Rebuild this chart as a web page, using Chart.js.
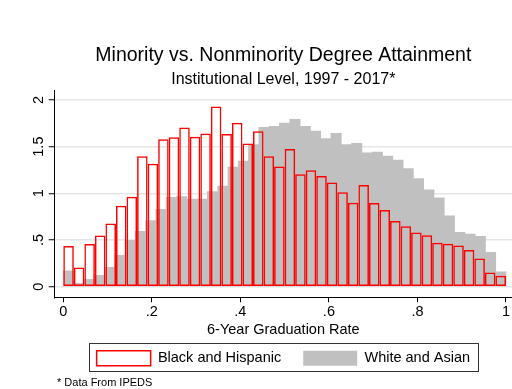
<!DOCTYPE html>
<html>
<head>
<meta charset="utf-8">
<title>Minority vs. Nonminority Degree Attainment</title>
<script src="https://cdn.jsdelivr.net/npm/chart.js@4/dist/chart.umd.min.js"></script>
<style>
  html, body { margin: 0; padding: 0; background: #ffffff; }
  canvas { display: block; }
</style>
</head>
<body>
<canvas id="chart" width="512" height="389"></canvas>
<script>
const FONT = '"Liberation Sans", Arial, Helvetica, sans-serif';

// Text
const titleText = 'Minority vs. Nonminority Degree Attainment';
const subtitleText = 'Institutional Level, 1997 - 2017*';
const xAxisTitle = '6-Year Graduation Rate';
const footnoteText = '* Data From IPEDS';
const seriesNames = ['Black and Hispanic', 'White and Asian'];

// Histogram densities, equal-width bins over [0, 1]
// Black and Hispanic: 42 bins
const minorityDensity = [
  0.435, 0.205, 0.457, 0.549, 0.676, 0.867, 0.963, 1.398, 1.317, 1.579,
  1.600, 1.706, 1.607, 1.642, 1.929, 1.635, 1.756, 1.533, 1.664, 1.398,
  1.288, 1.476, 1.204, 1.246, 1.186, 1.115, 1.012, 0.899, 1.090, 0.896,
  0.821, 0.704, 0.648, 0.581, 0.552, 0.471, 0.460, 0.442, 0.393, 0.301,
  0.152, 0.117
];
// White and Asian: 43 bins
const nonminorityDensity = [
  0.170, 0.035, 0.078, 0.120, 0.205, 0.336, 0.496, 0.591, 0.708, 0.828,
  0.956, 0.963, 0.938, 0.938, 1.019, 1.076, 1.281, 1.345, 1.522, 1.706,
  1.717, 1.752, 1.791, 1.717, 1.667, 1.586, 1.642, 1.522, 1.536, 1.434,
  1.441, 1.398, 1.356, 1.264, 1.158, 1.037, 0.952, 0.758, 0.581, 0.563,
  0.538, 0.368, 0.159
];

// Axis ticks
const xTickValues = [0, 0.2, 0.4, 0.6, 0.8, 1];
const xTickLabels = ['0', '.2', '.4', '.6', '.8', '1'];
const yTickValues = [0, 0.5, 1, 1.5, 2];
const yTickLabels = ['0', '.5', '1', '1.5', '2'];

// Plot region extends a little beyond the data range
const X_RANGE = [-0.0194, 1.0136];
const Y_RANGE = [-0.114, 2.096];

// Each bar sits at the centre of its bin
function toBins(values) {
  const n = values.length;
  return values.map((v, i) => ({ x: (i + 0.5) / n, y: v }));
}

const setTicks = (values) => (scale) => {
  scale.ticks = values.map(v => ({ value: v }));
};

// Frame around the legend row
const legendFrame = {
  id: 'legendFrame',
  afterDraw(chart) {
    const lg = chart.legend;
    if (!lg || !lg.legendHitBoxes || !lg.legendHitBoxes.length) return;
    const boxes = lg.legendHitBoxes;
    const first = boxes[0];
    const last = boxes[boxes.length - 1];
    const x0 = first.left - 7.5;
    const x1 = last.left + last.width + 8.5;
    const y0 = first.top - 7.7;
    const y1 = first.top + first.height + 5.5;
    const ctx = chart.ctx;
    ctx.save();
    ctx.strokeStyle = '#333333';
    ctx.lineWidth = 1;
    ctx.strokeRect(Math.round(x0) + 0.5, Math.round(y0) + 0.5, Math.round(x1 - x0), Math.round(y1 - y0));
    ctx.restore();
  }
};

// Source note under the legend
const footnote = {
  id: 'footnote',
  afterDraw(chart) {
    const ctx = chart.ctx;
    ctx.save();
    ctx.fillStyle = '#000000';
    ctx.font = '11px ' + FONT;
    ctx.textAlign = 'left';
    ctx.textBaseline = 'middle';
    ctx.fillText(footnoteText, 57, chart.height - 6);
    ctx.restore();
  }
};

Chart.defaults.font.family = FONT;
Chart.defaults.color = '#000000';

new Chart(document.getElementById('chart'), {
  type: 'bar',
  data: {
    datasets: [
      {
        // outlined bars, drawn on top
        label: seriesNames[0],
        data: toBins(minorityDensity),
        xAxisID: 'x',
        yAxisID: 'y',
        backgroundColor: 'rgba(255,255,255,0)',
        borderColor: '#ff0000',
        borderWidth: 1.5,
        borderSkipped: false,
        inflateAmount: 0,
        barPercentage: 1,
        categoryPercentage: 1,
        grouped: false,
        order: 0
      },
      {
        // solid grey bars behind; own hidden axis so its bin width is kept
        label: seriesNames[1],
        data: toBins(nonminorityDensity),
        xAxisID: 'x2',
        yAxisID: 'y',
        backgroundColor: '#c0c0c0',
        borderWidth: 0,
        inflateAmount: 0.4,
        barPercentage: 1,
        categoryPercentage: 1,
        grouped: false,
        order: 1
      }
    ]
  },
  options: {
    responsive: false,
    devicePixelRatio: 1,
    animation: false,
    events: [],
    layout: { padding: { top: 0, left: 31.3, right: 0, bottom: 13.3 } },
    plugins: {
      title: {
        display: true,
        text: titleText,
        fullSize: false,
        color: '#000000',
        font: { family: FONT, size: 19.5, weight: 'normal', lineHeight: 1.2 },
        padding: { top: 44.3, bottom: 2.5 }
      },
      subtitle: {
        display: true,
        text: subtitleText,
        fullSize: false,
        color: '#000000',
        font: { family: FONT, size: 16, weight: 'normal', lineHeight: 1.2 },
        padding: { top: 0, bottom: 1.6 }
      },
      legend: {
        display: true,
        position: 'bottom',
        align: 'center',
        fullSize: false,
        labels: {
          color: '#000000',
          font: { family: FONT, size: 14.5 },
          boxWidth: 54,
          boxHeight: 15,
          padding: 22
        }
      },
      tooltip: { enabled: false }
    },
    scales: {
      x: {
        type: 'linear',
        position: 'bottom',
        min: X_RANGE[0],
        max: X_RANGE[1],
        offset: false,
        afterBuildTicks: setTicks(xTickValues),
        ticks: {
          autoSkip: false,
          minRotation: 0,
          maxRotation: 0,
          padding: 1.7,
          color: '#000000',
          font: { family: FONT, size: 14.5, lineHeight: 1.1 },
          callback: (v, i) => xTickLabels[i]
        },
        grid: {
          display: true,
          offset: false,
          drawOnChartArea: false,
          drawTicks: true,
          tickLength: 5,
          tickColor: '#000000',
          tickWidth: 1
        },
        border: { display: true, color: '#000000', width: 1 },
        title: {
          display: true,
          text: xAxisTitle,
          color: '#000000',
          font: { family: FONT, size: 14.5, lineHeight: 1.1 },
          padding: { top: -0.1, bottom: -8.8 }
        }
      },
      x2: {
        type: 'linear',
        position: 'bottom',
        display: false,
        min: X_RANGE[0],
        max: X_RANGE[1],
        offset: false,
        afterBuildTicks: setTicks(xTickValues),
        grid: { offset: false }
      },
      y: {
        type: 'linear',
        position: 'left',
        min: Y_RANGE[0],
        max: Y_RANGE[1],
        afterBuildTicks: setTicks(yTickValues),
        ticks: {
          autoSkip: false,
          minRotation: 90,
          maxRotation: 90,
          crossAlign: 'center',
          padding: 0,
          color: '#000000',
          font: { family: FONT, size: 14.5 },
          callback: (v, i) => yTickLabels[i]
        },
        grid: {
          color: '#e6e6e6',
          lineWidth: 1.5,
          tickColor: '#000000',
          tickLength: 6,
          tickWidth: 1
        },
        border: { display: true, color: '#000000', width: 1 }
      }
    }
  },
  plugins: [legendFrame, footnote]
});
</script>
</body>
</html>
